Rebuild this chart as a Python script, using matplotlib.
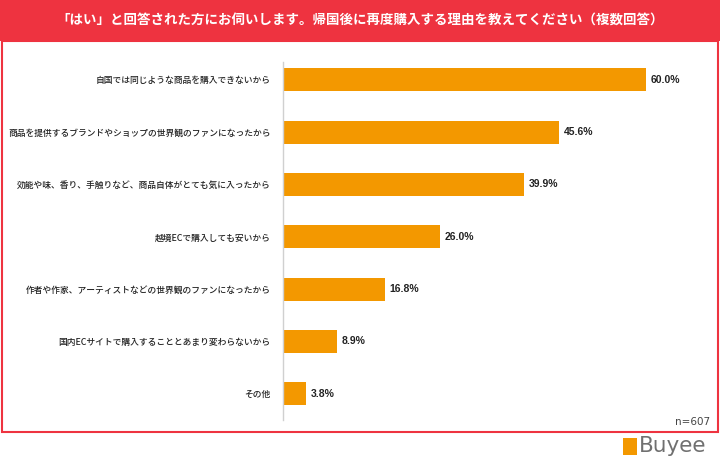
import matplotlib
matplotlib.use("Agg")
import matplotlib.pyplot as plt
from matplotlib.patches import Rectangle

plt.rcParams['font.family'] = ['Noto Sans CJK JP', 'DejaVu Sans']

title = "「はい」と回答された方にお伺いします。帰国後に再度購入する理由を教えてください（複数回答）"
reasons = [
    "自国では同じような商品を購入できないから",
    "商品を提供するブランドやショップの世界観のファンになったから",
    "効能や味、香り、手触りなど、商品自体がとても気に入ったから",
    "越境ECで購入しても安いから",
    "作者や作家、アーティストなどの世界観のファンになったから",
    "国内ECサイトで購入することとあまり変わらないから",
    "その他",
]
shares = [60.0, 45.6, 39.9, 26.0, 16.8, 8.9, 3.8]
sample_note = "n=607"

red = "#EE3340"
orange = "#F39800"

W, H = 720, 462
fig = plt.figure(figsize=(W / 100, H / 100), dpi=100)

# header band + frame
fig.patches.append(Rectangle((0, 1 - 41 / H), 1, 41 / H, transform=fig.transFigure,
                             facecolor=red, edgecolor="none", zorder=0))
fig.patches.append(Rectangle((2 / W, 1 - 432 / H), 716 / W, 391 / H, transform=fig.transFigure,
                             facecolor="none", edgecolor=red, linewidth=1.5, zorder=0))
fig.text(0.5, 1 - 20 / H, title, color="white", fontsize=9.7, fontweight="bold",
         ha="center", va="center")

ax = fig.add_axes([283 / W, 1 - 420 / H, 417 / W, 358 / H])
y = list(range(len(reasons)))
ax.barh(y, shares, height=0.44, color=orange)
for yi, v in zip(y, shares):
    ax.text(v + 0.8, yi, f"{v:.1f}%", va="center", ha="left", fontsize=7.5,
            fontweight="bold", color="#222222", family=["Liberation Sans"])
ax.set_xlim(0, 69)
ax.set_ylim(6.5, -0.34)
ax.set_yticks(y)
ax.set_yticklabels(reasons, fontsize=6.3, color="#222222", fontweight="medium")
ax.tick_params(axis="y", length=0, pad=9)
ax.set_xticks([])
for s in ["top", "right", "bottom"]:
    ax.spines[s].set_visible(False)
ax.spines["left"].set_color("#D0D0D0")
ax.spines["left"].set_linewidth(1)

fig.text(710 / W, 1 - 422 / H, sample_note, fontsize=7.5, color="#444444",
         ha="right", va="center", family=["DejaVu Sans"])

# Buyee logo
fig.patches.append(Rectangle((623 / W, 1 - 455 / H), 14 / W, 17 / H, transform=fig.transFigure,
                             facecolor=orange, edgecolor="none"))
fig.text(639 / W, 1 - 446 / H, "Buyee", fontsize=15.5, color="#707070",
         ha="left", va="center", family=["DejaVu Sans"])

fig.savefig("out.png", dpi=100)
